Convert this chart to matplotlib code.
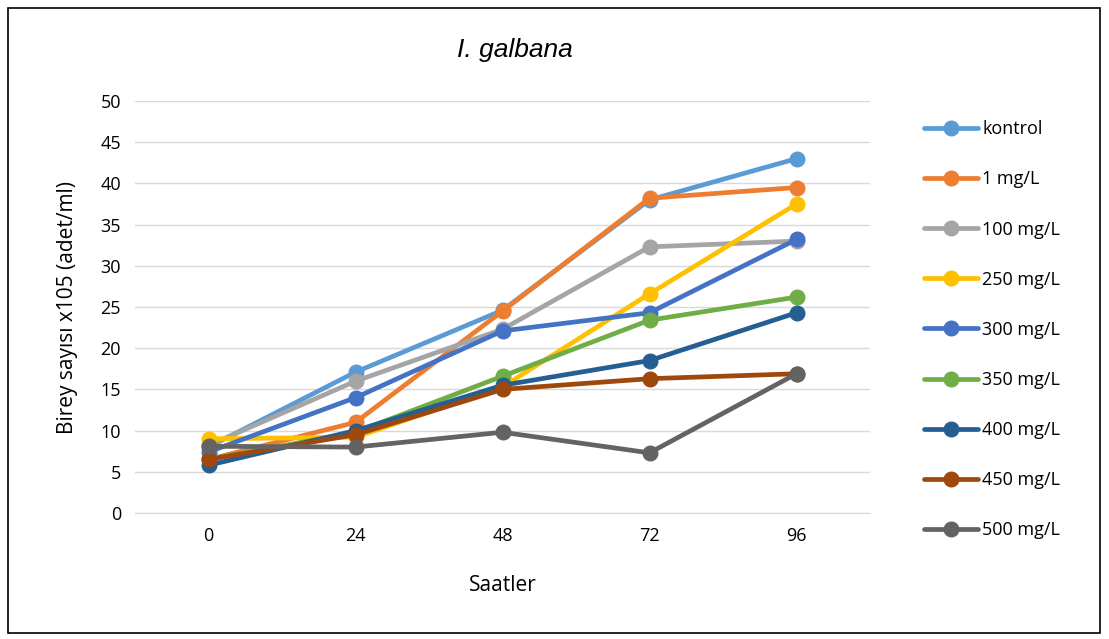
import matplotlib
matplotlib.use("Agg")
import matplotlib.pyplot as plt
from matplotlib.patches import Rectangle

plt.rcParams['font.family'] = ['Open Sans', 'DejaVu Sans']

hours = ["0", "24", "48", "72", "96"]
series_names = ["kontrol", "1 mg/L", "100 mg/L", "250 mg/L", "300 mg/L",
                "350 mg/L", "400 mg/L", "450 mg/L", "500 mg/L"]
kontrol = [8.0, 17.1, 24.6, 38.0, 43.0]
mg1 = [6.5, 11.0, 24.5, 38.2, 39.5]
mg100 = [8.2, 16.0, 22.3, 32.3, 33.0]
mg250 = [9.0, 9.2, 15.3, 26.6, 37.5]
mg300 = [7.4, 14.0, 22.1, 24.3, 33.2]
mg350 = [6.5, 9.8, 16.6, 23.4, 26.2]
mg400 = [5.8, 10.0, 15.5, 18.5, 24.3]
mg450 = [6.5, 9.5, 15.0, 16.3, 16.9]
mg500 = [8.1, 8.0, 9.8, 7.3, 16.9]
values = [kontrol, mg1, mg100, mg250, mg300, mg350, mg400, mg450, mg500]
colors = ["#5B9BD5", "#ED7D31", "#A5A5A5", "#FFC000", "#4472C4",
          "#70AD47", "#255E91", "#9E480E", "#636363"]

fig = plt.figure(figsize=(11.09, 6.39), dpi=100)
ax = fig.add_axes([135/1109, 1-513/639, 735/1109, 412/639])

xs = list(range(len(hours)))
for i, (name, vals, c) in enumerate(zip(series_names, values, colors)):
    ax.plot(xs, vals, color=c, lw=3.4, marker='o', markersize=10.5, label=name,
            zorder=3+i, solid_capstyle='round')

ax.set_xlim(-0.5, 4.5)
ax.set_ylim(0, 50)
ax.set_yticks(range(0, 51, 5))
ax.set_xticks(xs)
ax.set_xticklabels(hours)
ax.grid(axis='y', color='#D9D9D9', lw=1)
ax.set_axisbelow(True)
for s in ['top', 'right', 'left']:
    ax.spines[s].set_visible(False)
ax.spines['bottom'].set_color('#D9D9D9')
ax.tick_params(axis='both', length=0, labelsize=13, colors='#000000', pad=10)
ax.set_xlabel("Saatler", fontsize=15, labelpad=22)
ax.set_ylabel("Birey sayısı x105 (adet/ml)", fontsize=15, labelpad=16)
fig.text(515/1109, 1-50/639, "I. galbana", fontsize=19, style='italic',
         family=['Liberation Sans', 'DejaVu Sans'], ha='center', va='center')

leg = ax.legend(loc='upper left', bbox_to_anchor=(908/1109, 1-104/639),
                bbox_transform=fig.transFigure, frameon=False, fontsize=13,
                labelspacing=1.78, handlelength=3.0, handletextpad=0.2)

fig.patches.append(Rectangle((8/1109, 1-633/639), 1092/1109, 625/639,
                             transform=fig.transFigure, fill=False,
                             edgecolor='#000000', lw=1.2))
fig.savefig("out.png", dpi=100)
